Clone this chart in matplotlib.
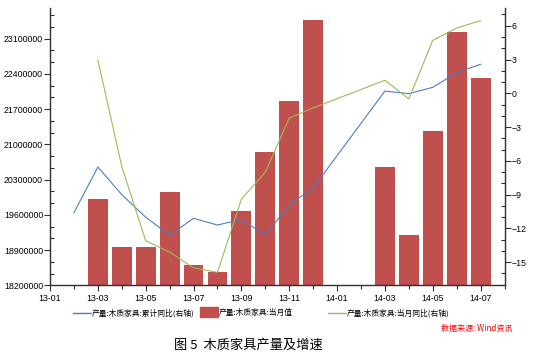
import matplotlib
matplotlib.use('Agg')
import matplotlib.pyplot as plt
import numpy as np
from matplotlib.lines import Line2D
from matplotlib.patches import Rectangle
from matplotlib.ticker import FixedLocator, MultipleLocator, FuncFormatter

plt.rcParams['font.family'] = ['Noto Sans CJK SC', 'DejaVu Sans']

nan = np.nan
months = ['13-01', '13-02', '13-03', '13-04', '13-05', '13-06', '13-07', '13-08', '13-09',
          '13-10', '13-11', '13-12', '14-01', '14-02', '14-03', '14-04', '14-05', '14-06', '14-07']
monthly_output = [nan, nan, 19912000, 18960000, 18960000, 20051000, 18603000, 18464000, 19674000,
                  20845000, 21862000, 23464000, nan, nan, 20547000, 19198000, 21261000, 23225000, 22313000]
cum_yoy = [nan, -10.6, -6.55, -9.0, -11.0, -12.6, -11.1, -11.7, -11.2,
           -12.6, -9.9, -8.4, nan, nan, 0.2, -0.03, 0.53, 1.83, 2.58]
monthly_yoy = [nan, nan, 2.96, -6.5, -13.1, -14.1, -15.5, -15.9, -9.4,
               -7.0, -2.2, -1.3, nan, nan, 1.16, -0.5, 4.7, 5.8, 6.45]

label_cum = '产量:木质家具:累计同比(右轴)'
label_bar = '产量:木质家具:当月值'
label_mon = '产量:木质家具:当月同比(右轴)'

c_bar = '#C0504D'
c_blue = '#4A7EC4'
c_green = '#9BBB59'
spine_c = '#303030'

fig = plt.figure(figsize=(5.54, 3.58), dpi=100)
ax = fig.add_axes([0.0903, 0.2031, 0.8204, 0.7737])
ax2 = ax.twinx()

x = np.arange(len(months))
vals = np.array(monthly_output, dtype=float)
mask = ~np.isnan(vals)
ax.bar(x[mask], vals[mask], width=0.83, color=c_bar, zorder=2)

cy = np.array(cum_yoy, dtype=float)
m1 = ~np.isnan(cy)
ax2.plot(x[m1], cy[m1], color=c_blue, lw=0.8)
my = np.array(monthly_yoy, dtype=float)
m2 = ~np.isnan(my)
ax2.plot(x[m2], my[m2], color=c_green, lw=0.8)

ax.set_xlim(0, 19)
ax.set_ylim(18200000, 23700000)
ax2.set_ylim(-17.05, 7.55)

ax.xaxis.set_major_locator(FixedLocator(x[::2]))
ax.set_xticklabels(months[::2])
ax.xaxis.set_minor_locator(MultipleLocator(1))

ax.yaxis.set_major_locator(FixedLocator(np.arange(18200000, 23100001, 700000)))
ax.yaxis.set_minor_locator(MultipleLocator(700000 / 3))
ax.yaxis.set_major_formatter(FuncFormatter(lambda v, p: f'{int(round(v))}'))

ax2.yaxis.set_major_locator(FixedLocator(np.arange(-15, 7, 3)))
ax2.yaxis.set_minor_locator(MultipleLocator(1))

tick_font = ['Liberation Sans', 'DejaVu Sans']
for a in (ax, ax2):
    for s in a.spines.values():
        s.set_color(spine_c)
        s.set_linewidth(1.0)
    a.spines['top'].set_visible(False)
    for lab in a.get_xticklabels() + a.get_yticklabels():
        lab.set_family(tick_font)
        lab.set_fontsize(6.3)

ax.tick_params(axis='y', which='major', direction='out', length=4, width=0.8, color=spine_c, pad=1)
ax.tick_params(axis='y', which='minor', direction='in', length=3, width=0.8, color=spine_c)
ax2.tick_params(axis='y', which='major', direction='out', length=4, width=0.8, color=spine_c, pad=1)
ax2.tick_params(axis='y', which='minor', direction='in', length=3, width=0.8, color=spine_c)
ax.tick_params(axis='x', which='major', direction='out', length=4, width=0.8, color=spine_c, pad=2)
ax.tick_params(axis='x', which='minor', direction='out', length=3, width=0.8, color=spine_c)
ax2.spines['left'].set_visible(False)
ax2.spines['bottom'].set_visible(False)
ax.spines['right'].set_visible(False)

# Legend (manual layout)
ly = 0.1249
lfs = 5.6
fig.add_artist(Line2D([0.1318, 0.1643], [ly, ly], color=c_blue, lw=1.0, transform=fig.transFigure))
fig.text(0.166, ly, label_cum, fontsize=lfs, va='center', ha='left')
fig.add_artist(Rectangle((0.361, 0.1145), 0.0325, 0.028, color=c_bar, transform=fig.transFigure))
fig.text(0.395, ly, label_bar, fontsize=lfs, va='center', ha='left')
fig.add_artist(Line2D([0.592, 0.6245], [ly, ly], color=c_green, lw=1.0, transform=fig.transFigure))
fig.text(0.626, ly, label_mon, fontsize=lfs, va='center', ha='left')

fig.text(0.924, 0.0838, '数据来源: Wind资讯', fontsize=5.8, color='#FF0000', style='italic',
         ha='right', va='center')
fig.text(0.449, 0.0363, '图 5  木质家具产量及增速', fontsize=9.5, ha='center', va='center')

fig.savefig('out.png', dpi=100)
